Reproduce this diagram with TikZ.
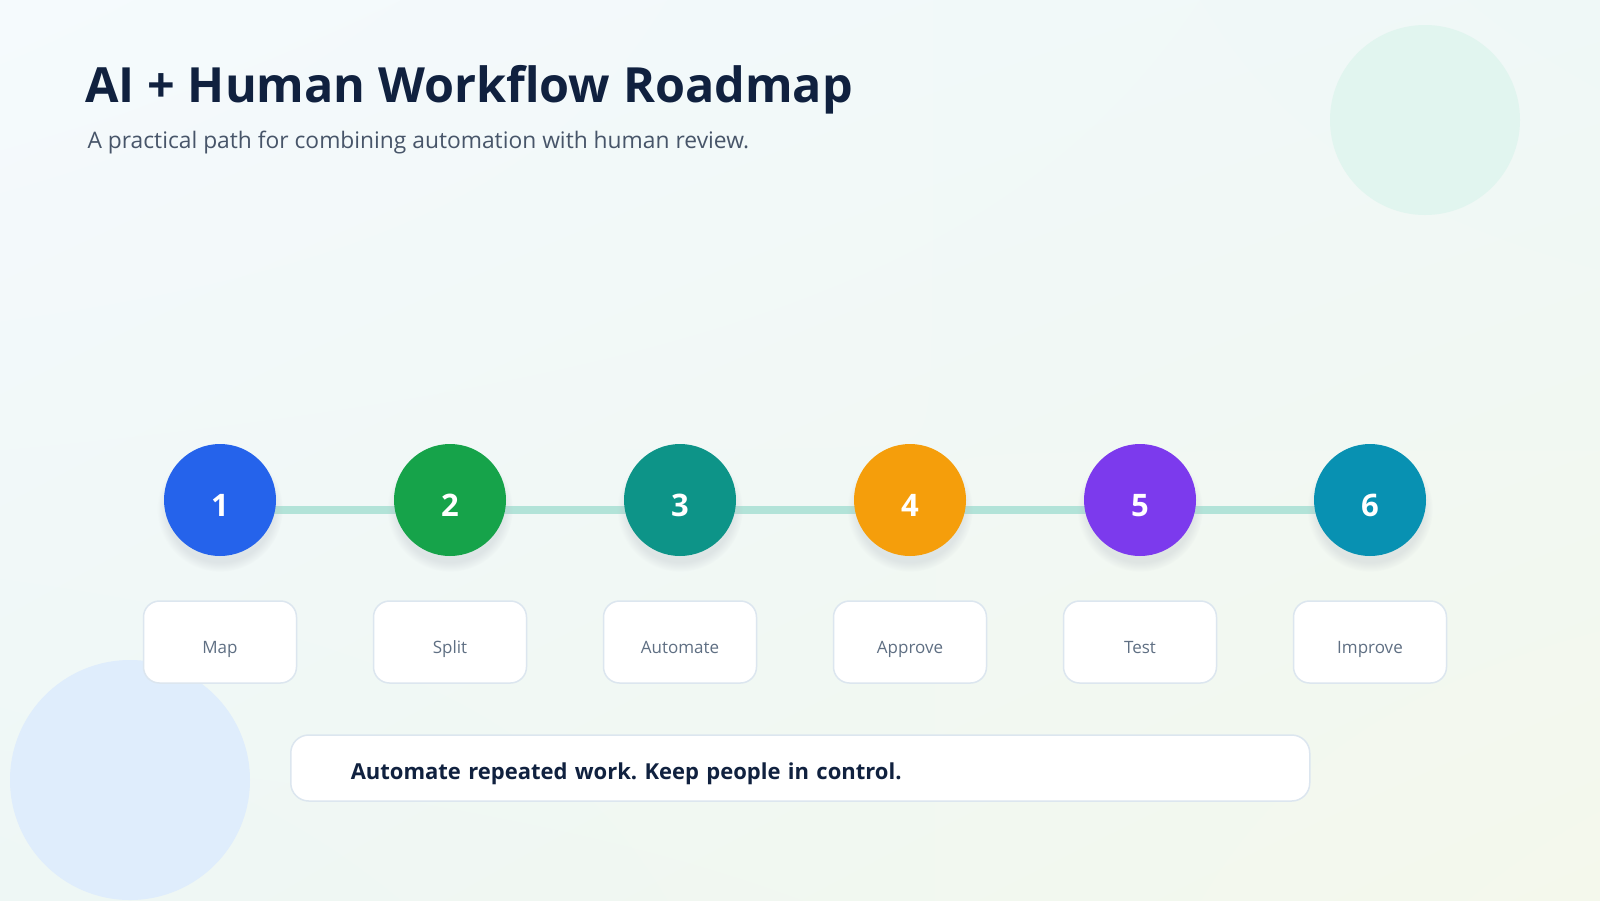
\documentclass[tikz,border=0pt]{standalone}
\usepackage{fontspec}
\setmainfont{Open Sans}
\setsansfont{Open Sans}
\usepackage{xcolor}
\usepackage{tikz}
\usetikzlibrary{shadows,shadings,positioning}
\definecolor{roadnavy}{HTML}{10213F}
\definecolor{roadslate}{HTML}{475569}
\definecolor{roadgray}{HTML}{5F6F83}
\definecolor{roadedge}{HTML}{DCE6EF}
\definecolor{roadlink}{HTML}{B2E3D8}
\definecolor{roadmint}{HTML}{E1F5EF}
\definecolor{roadsky}{HTML}{DFEDFC}
\definecolor{roadbgA}{HTML}{F5FAFD}
\definecolor{roadbgB}{HTML}{EFF8F7}
\definecolor{roadbgC}{HTML}{EEF7F5}
\definecolor{roadbgD}{HTML}{F4F8EC}
\definecolor{roadblue}{HTML}{2563EB}
\definecolor{roadgreen}{HTML}{16A34A}
\definecolor{roadteal}{HTML}{0D9488}
\definecolor{roadamber}{HTML}{F59E0B}
\definecolor{roadviolet}{HTML}{7C3AED}
\definecolor{roadcyan}{HTML}{0891B2}
\pgfdeclarelayer{bg}
\pgfdeclarelayer{links}
\pgfsetlayers{bg,links,main}
\frenchspacing

\begin{document}
\begin{tikzpicture}[
  x=1pt,y=-1pt,
  font=\sffamily,
  stepdot/.style={circle,minimum size=112pt,inner sep=0pt,text=white,
    text height=32pt,text depth=0pt,
    font=\sffamily\bfseries\fontsize{31}{31}\selectfont,
    circular drop shadow={shadow xshift=0pt,shadow yshift=-8pt,shadow scale=1.12,opacity=.3,fill=roadslate!40}},
  lbl/.style={draw=roadedge,line width=1.5pt,fill=white,rounded corners=16pt,
    minimum width=153pt,minimum height=82pt,text height=22pt,text depth=0pt,
    text=roadgray,font=\sffamily\fontsize{17}{20}\selectfont},
  banner/.style={draw=roadedge,line width=1.5pt,fill=white,rounded corners=18pt,
    minimum height=66pt,text width=899pt,inner xsep=60pt,align=left,text=roadnavy,
    text height=22pt,text depth=0pt,
    font=\sffamily\bfseries\fontsize{22}{26}\selectfont},
  link/.style={draw=roadlink,line width=8pt}
]
\useasboundingbox (0,0) rectangle (1600,900);
\begin{pgfonlayer}{bg}
\shade[upper left=roadbgA,upper right=roadbgB,lower left=roadbgC,lower right=roadbgD] (0,0) rectangle (1600,900);
\fill[roadmint] (1425,120) circle (95);
\fill[roadsky] (130,780) circle (120);
\end{pgfonlayer}

\node[anchor=base west,text=roadnavy,font=\sffamily\bfseries\fontsize{48.5}{58}\selectfont] (title) at (82,102) {AI + Human Workflow Roadmap};
\node[anchor=base west,text=roadslate,font=\sffamily\fontsize{22.8}{27}\selectfont] (sub) at (84,148) {A practical path for combining automation with human review.};

\node[stepdot,fill=roadblue] (s1) at (220,500) {1};
\node[stepdot,fill=roadgreen] (s2) at (450,500) {2};
\node[stepdot,fill=roadteal] (s3) at (680,500) {3};
\node[stepdot,fill=roadamber] (s4) at (910,500) {4};
\node[stepdot,fill=roadviolet] (s5) at (1140,500) {5};
\node[stepdot,fill=roadcyan] (s6) at (1370,500) {6};

\node[lbl] (l1) at (220,642) {Map};
\node[lbl] (l2) at (450,642) {Split};
\node[lbl] (l3) at (680,642) {Automate};
\node[lbl] (l4) at (910,642) {Approve};
\node[lbl] (l5) at (1140,642) {Test};
\node[lbl] (l6) at (1370,642) {Improve};

\node[banner,anchor=west] (tip) at (290,768) {Automate repeated work. Keep people in control.};

\begin{pgfonlayer}{links}
\draw[link] ([yshift=-10pt]s1.center) -- ([yshift=-10pt]s2.center);
\draw[link] ([yshift=-10pt]s2.center) -- ([yshift=-10pt]s3.center);
\draw[link] ([yshift=-10pt]s3.center) -- ([yshift=-10pt]s4.center);
\draw[link] ([yshift=-10pt]s4.center) -- ([yshift=-10pt]s5.center);
\draw[link] ([yshift=-10pt]s5.center) -- ([yshift=-10pt]s6.center);
\end{pgfonlayer}
\end{tikzpicture}
\end{document}
